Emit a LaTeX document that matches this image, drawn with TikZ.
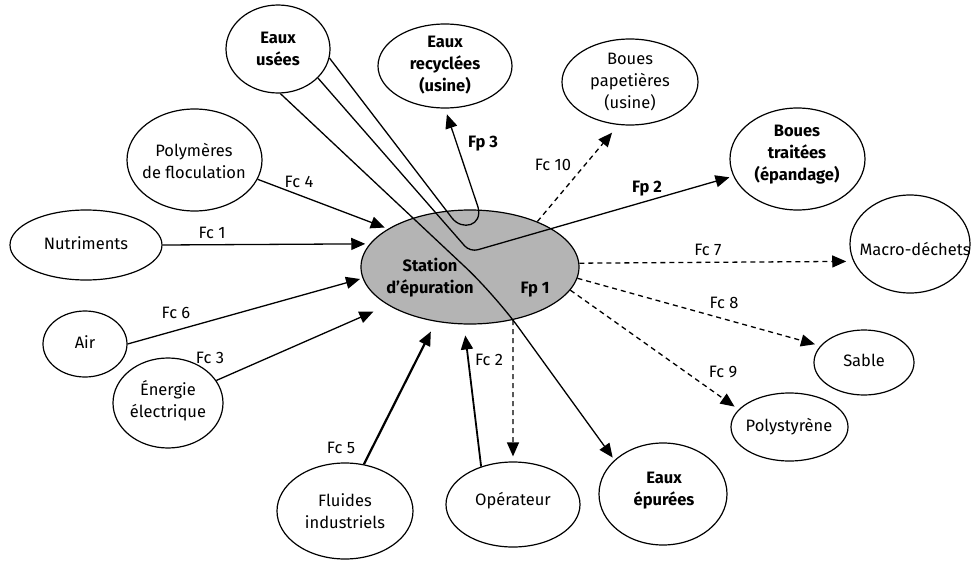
\documentclass[tikz,border=0pt]{standalone}
\usepackage{fontspec}
\setmainfont{Fira Sans}
\usetikzlibrary{arrows.meta,shapes.geometric}
\definecolor{stgray}{RGB}{180,180,180}
\begin{document}
\begin{tikzpicture}[x=1pt,y=-1pt,
  ell/.style={ellipse, draw, line width=1.2pt, inner sep=0pt},
  txt/.style={align=center, inner sep=0pt, font=\fontsize{16.5}{22}\selectfont},
  btxt/.style={align=center, inner sep=0pt, font=\fontsize{16.5}{22}\selectfont\bfseries},
  lab/.style={anchor=base, inner sep=0pt, font=\fontsize{16.5}{20}\selectfont},
  blab/.style={anchor=base, inner sep=0pt, font=\fontsize{16.5}{20}\selectfont\bfseries},
  conn/.style={line width=1.3pt, -{Triangle[length=14pt,width=12pt]}},
  dconn/.style={conn, dash pattern=on 5pt off 4pt},
]
\useasboundingbox (0,0) rectangle (972,562);

% ellipses
\node[ell, fill=stgray, minimum width=218pt, minimum height=114pt] (st) at (470,267) {};
\node[ell, minimum width=104pt, minimum height=88pt] (eu) at (278,49) {};
\node[ell, minimum width=134pt, minimum height=84pt] (er) at (445,66) {};
\node[ell, minimum width=136pt, minimum height=86pt] (bp) at (630,82) {};
\node[ell, minimum width=135pt, minimum height=102pt] (bt) at (797.5,159) {};
\node[ell, minimum width=120pt, minimum height=98pt] (ma) at (910,244) {};
\node[ell, minimum width=100pt, minimum height=65pt] (sa) at (864,362.5) {};
\node[ell, minimum width=117pt, minimum height=68pt] (po) at (789.5,427) {};
\node[ell, minimum width=128pt, minimum height=102pt] (ep) at (663,494) {};
\node[ell, minimum width=134pt, minimum height=85pt] (op) at (513,504.5) {};
\node[ell, minimum width=136pt, minimum height=96pt] (fl) at (345,511) {};
\node[ell, minimum width=110pt, minimum height=90pt] (en) at (168,403) {};
\node[ell, minimum width=84pt, minimum height=66pt] (ai) at (85,344) {};
\node[ell, minimum width=152pt, minimum height=70pt] (nu) at (86,245) {};
\node[ell, minimum width=135pt, minimum height=102pt] (pf) at (194.5,160) {};

% texts in ellipses
\node[btxt] (st-t) at (430,278) {Station\\d’épuration};
\node[btxt] (eu-t) at (278,49) {Eaux\\usées};
\node[btxt] (er-t) at (445,65) {Eaux\\recyclées\\(usine)};
\node[txt] (bp-t) at (630,82) {Boues\\papetières\\(usine)};
\node[btxt] (bt-t) at (797,155) {Boues\\traitées\\(épandage)};
\node[txt] (ma-t) at (915,249) {Macro-déchets};
\node[txt] (sa-t) at (864,360) {Sable};
\node[txt] (po-t) at (789,427) {Polystyrène};
\node[btxt] (ep-t) at (664,491) {Eaux\\épurées};
\node[txt] (op-t) at (513,501) {Opérateur};
\node[txt] (fl-t) at (345,511) {Fluides\\industriels};
\node[txt] (en-t) at (168,401) {Énergie\\électrique};
\node[txt] (ai-t) at (85,342) {Air};
\node[txt] (nu-t) at (86,243) {Nutriments};
\node[txt] (pf-t) at (194,161) {Polymères\\de floculation};

% connectors in
\draw[conn, shorten >=3.5pt] (pf.-17.7) -- (st.155.2);
\draw[conn, shorten >=4.4pt] (nu.east) -- (st.167.7);
\draw[conn, shorten >=2.6pt] (ai.east) -- (st.186.6);
\draw[conn, shorten >=16pt] (en.25) -- (st.205.7);
\draw[conn, line width=2.2pt, shorten >=11pt] (fl.68.8) -- (st.-122.9);
\draw[conn, line width=1.8pt, shorten >=11pt] (op.130.6) -- (st.-96.3);

% connectors out (dashed)
\draw[dconn, shorten >=5pt] (st.-51) -- (op.north);
\draw[dconn, shorten >=7pt] (st.2.6) -- (ma.-163.2);
\draw[dconn, shorten >=5.6pt] (st.-6.9) -- (sa.159.9);
\draw[dconn, shorten >=4.9pt] (st.-13.8) -- (po.161.2);
\draw[dconn, shorten >=10pt] (st.34.7) -- (bp.-105.2);

% main flows from Eaux usées
\draw[conn, rounded corners=40pt, shorten >=3pt] (eu.-87) -- (495,295) -- (ep.145.2);
\draw[conn, rounded corners=8pt, shorten >=4pt] (eu.-36.6) -- (470,252) -- (bt.-165.1);
\draw[conn, shorten >=6pt] (eu.-10) -- (452,218) .. controls (462,231) and (483,226) .. (478,207) -- (er.-90);

% labels
\node[lab] (l-fc4) at (299,187) {Fc 4};
\node[lab] (l-fc1) at (212,238) {Fc 1};
\node[lab] (l-fc6) at (176,318) {Fc 6};
\node[lab] (l-fc3) at (210,363) {Fc 3};
\node[lab] (l-fc5) at (341,453) {Fc 5};
\node[lab] (l-fc2) at (489,365) {Fc 2};
\node[blab] (l-fp3) at (483,147) {Fp 3};
\node[lab] (l-fc10) at (553,170) {Fc 10};
\node[blab] (l-fp2) at (647,192) {Fp 2};
\node[lab] (l-fc7) at (708,255) {Fc 7};
\node[lab] (l-fc8) at (724,308) {Fc 8};
\node[lab] (l-fc9) at (723,377) {Fc 9};
\node[blab] (l-fp1) at (535,293) {Fp 1};
\end{tikzpicture}
\end{document}
